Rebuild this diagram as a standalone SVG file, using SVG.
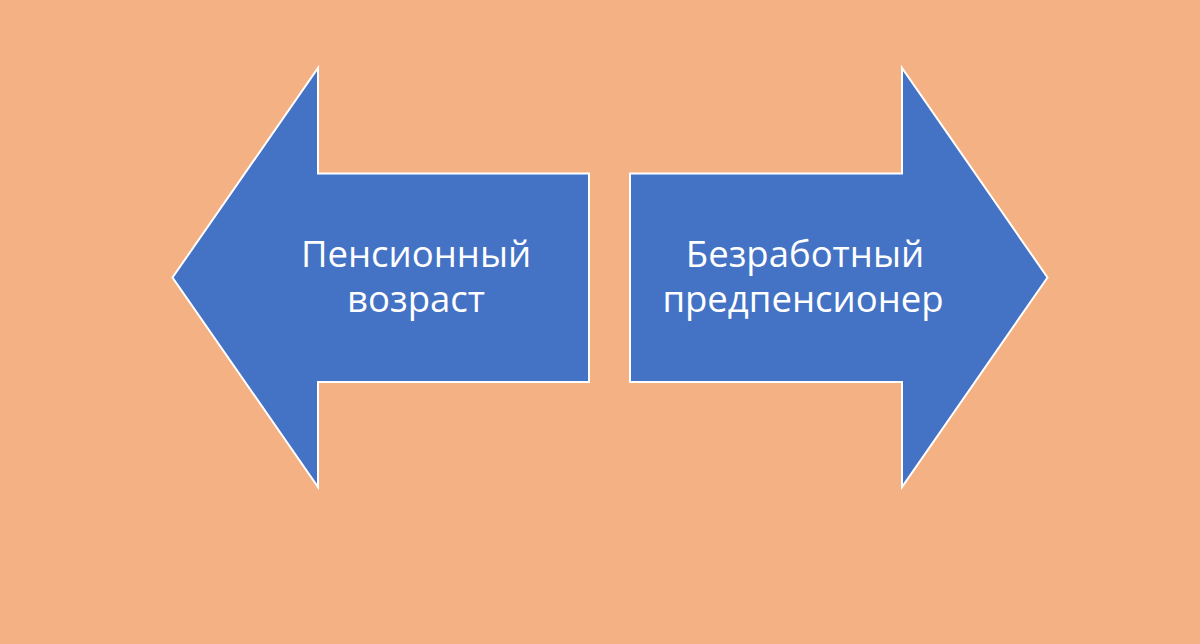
<svg xmlns="http://www.w3.org/2000/svg" width="1200" height="644" viewBox="0 0 1200 644">
<style>
.arrow{fill:#4472C4;stroke:#FFFFFF;stroke-width:2}
.lbl{fill:#FFFFFF;font-family:"Open Sans","Liberation Sans",sans-serif;font-size:36.5px;text-anchor:middle}
</style>
<rect width="1200" height="644" fill="#F4B183"/>
<g id="left-arrow">
<polygon class="arrow" points="172.5,277.5 318,68 318,173.5 589,173.5 589,382 318,382 318,487"/>
<text class="lbl" x="416" y="267">Пенсионный</text>
<text class="lbl" x="416" y="312">возраст</text>
</g>
<g id="right-arrow">
<polygon class="arrow" points="1047.5,277.5 902,68 902,173.5 630,173.5 630,382 902,382 902,487"/>
<text class="lbl" x="805" y="267">Безработный</text>
<text class="lbl" x="803" y="312">предпенсионер</text>
</g>
<g id="connectors"/>
</svg>
